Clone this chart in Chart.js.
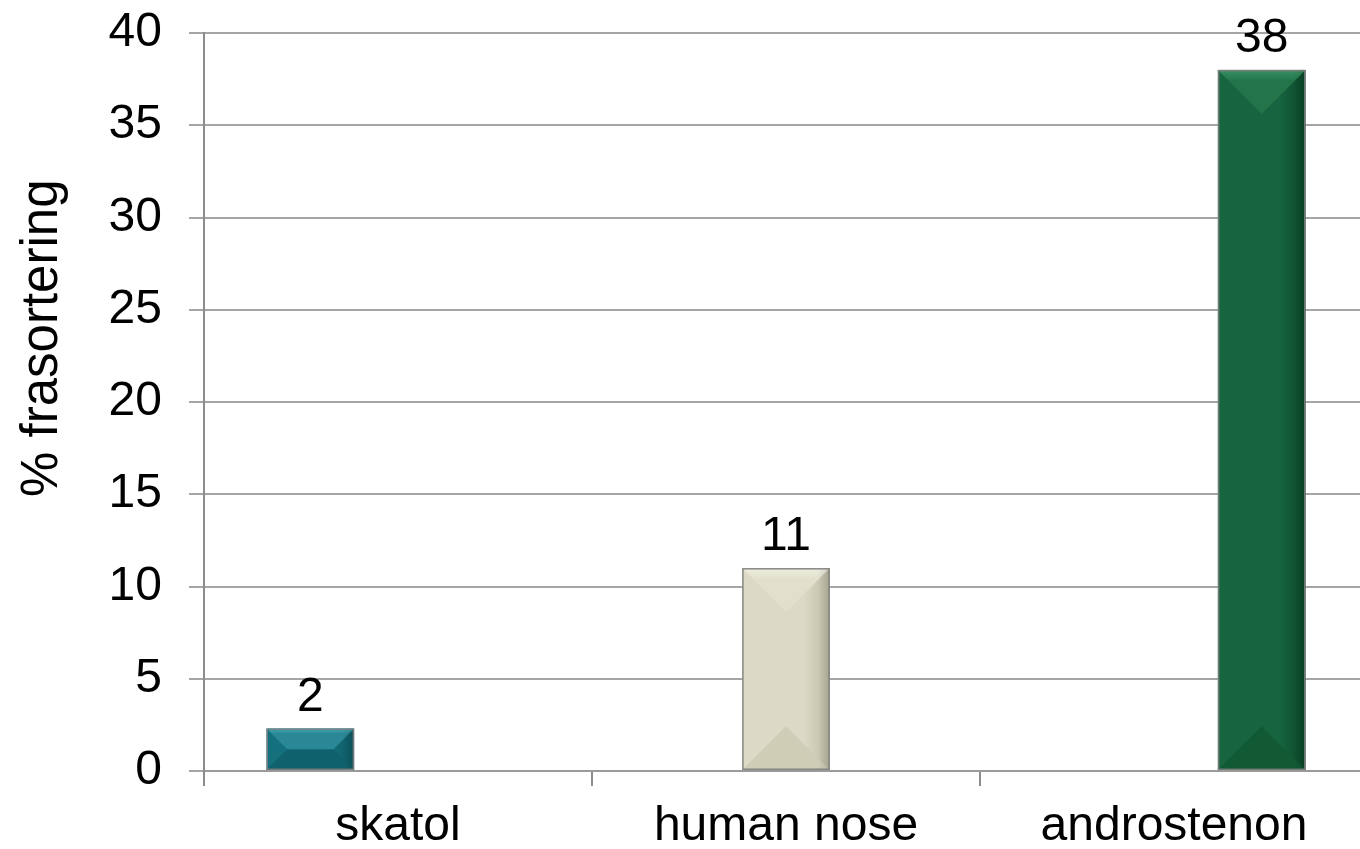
<!DOCTYPE html>
<html>
<head>
<meta charset="utf-8">
<script src="https://cdn.jsdelivr.net/npm/chart.js@4"></script>
<style>
  html, body { margin: 0; padding: 0; background: #fff; overflow: hidden; }
  #wrap { position: absolute; left: 0; top: 0; width: 1370px; height: 849px; }
</style>
</head>
<body>
<div id="wrap"><canvas id="chart"></canvas></div>
<script>
        // Daten
        const categories = ['skatol', 'human nose', 'androstenon'];
        const skatolValues = [2.3, null, null];
        const humanNoseValues = [null, 11, null];
        const androstenonValues = [null, null, 38];
        const yTicks = [0, 5, 10, 15, 20, 25, 30, 35, 40];

        const FONT = "'Liberation Sans', Arial, sans-serif";

        // Farben pro Serie
        const shades = [
            { left: '#14707d', right: '#0e5a65', top1: '#45a7b4', top2: '#2a8896', bottom: '#0f626d' },
            { left: '#dcdac6', right: '#bdbba4', top1: '#eeeddf', top2: '#e2e0cd', bottom: '#cfcdb6' },
            { left: '#176540', right: '#0b4628', top1: '#3a9163', top2: '#237549', bottom: '#125a34' }
        ];

        function poly(ctx, pts, fill) {
            ctx.beginPath();
            ctx.moveTo(pts[0][0], pts[0][1]);
            for (let k = 1; k < pts.length; k++) ctx.lineTo(pts[k][0], pts[k][1]);
            ctx.closePath();
            ctx.fillStyle = fill;
            ctx.fill();
        }

        // Abgeschrägte Balken + Werte darüber
        const bevelPlugin = {
            id: 'bevel',
            afterDatasetsDraw(chart) {
                const ctx = chart.ctx;
                chart.data.datasets.forEach((ds, i) => {
                    const meta = chart.getDatasetMeta(i);
                    meta.data.forEach((bar, j) => {
                        if (ds.data[j] == null) return;
                        const p = bar.getProps(['x', 'y', 'base', 'width'], true);
                        const l = p.x - p.width / 2, r = p.x + p.width / 2;
                        const t = p.y, b = p.base;
                        const d = Math.min((b - t) / 2, p.width / 2);
                        const s = shades[i];
                        ctx.save();
                        const g = ctx.createLinearGradient(l, 0, r, 0);
                        g.addColorStop(0, s.left);
                        g.addColorStop(0.7, s.left);
                        g.addColorStop(1, s.right);
                        ctx.fillStyle = g;
                        ctx.fillRect(l, t, p.width, b - t);
                        // untere Facette
                        poly(ctx, [[l, b], [r, b], [r - d, b - d], [l + d, b - d]], s.bottom);
                        // obere Facette
                        const gt = ctx.createLinearGradient(0, t, 0, t + d);
                        gt.addColorStop(0, s.top1);
                        gt.addColorStop(0.25, s.top2);
                        gt.addColorStop(1, s.top2);
                        poly(ctx, [[l, t], [r, t], [r - d, t + d], [l + d, t + d]], gt);
                        // rechte Kante dunkler
                        const gr = ctx.createLinearGradient(r - 12, 0, r, 0);
                        gr.addColorStop(0, 'rgba(0,0,0,0)');
                        gr.addColorStop(1, 'rgba(0,0,0,0.12)');
                        ctx.fillStyle = gr;
                        ctx.fillRect(r - 12, t, 12, b - t);
                        ctx.strokeStyle = 'rgba(125,125,125,0.9)';
                        ctx.lineWidth = 1.5;
                        ctx.strokeRect(l + 0.75, t + 0.75, p.width - 1.5, b - t - 1.5);

                        ctx.fillStyle = '#000';
                        ctx.font = '48px ' + FONT;
                        ctx.textAlign = 'center';
                        ctx.textBaseline = 'alphabetic';
                        ctx.fillText(String(Math.round(ds.data[j])), p.x, t - 18);
                        ctx.restore();
                    });
                });
            }
        };

        function makeDataset(label, values) {
            return {
                label: label,
                data: values,
                backgroundColor: 'rgba(0,0,0,0)',
                borderWidth: 0,
                categoryPercentage: 0.678,
                barPercentage: 1.0
            };
        }

        new Chart(document.getElementById('chart'), {
            type: 'bar',
            data: {
                labels: categories,
                datasets: [
                    makeDataset('skatol', skatolValues),
                    makeDataset('human nose', humanNoseValues),
                    makeDataset('androstenon', androstenonValues)
                ]
            },
            options: {
                responsive: true,
                maintainAspectRatio: false,
                animation: false,
                layout: { padding: { top: 33, right: 2, left: 0, bottom: 0 } },
                plugins: {
                    legend: { display: false },
                    tooltip: { enabled: false }
                },
                scales: {
                    x: {
                        grid: {
                            display: true,
                            drawOnChartArea: false,
                            drawTicks: true,
                            tickLength: 15,
                            color: '#8c8c8c',
                            lineWidth: 2
                        },
                        border: { color: '#9a9a9a', width: 2 },
                        ticks: {
                            color: '#000',
                            font: { family: FONT, size: 48 },
                            padding: 12,
                            maxRotation: 0
                        },
                        afterFit: s => { s.height = 78; s.paddingLeft = 0; s.paddingRight = 0; }
                    },
                    y: {
                        min: 0,
                        max: 40,
                        afterBuildTicks: s => { s.ticks = yTicks.map(v => ({ value: v })); },
                        grid: {
                            color: '#a6a6a6',
                            lineWidth: 2,
                            tickLength: 15,
                            drawTicks: true
                        },
                        border: { color: '#8c8c8c', width: 2 },
                        ticks: {
                            color: '#000',
                            font: { family: FONT, size: 48 },
                            padding: 27
                        },
                        title: {
                            display: true,
                            text: '\u00a0\u00a0\u00a0\u00a0\u00a0\u00a0\u00a0\u00a0\u00a0% frasortering',
                            color: '#000',
                            font: { family: FONT, size: 51 },
                            padding: { top: 12, bottom: 0 }
                        },
                        afterFit: s => { s.width = 204; s.paddingTop = 0; s.paddingBottom = 0; }
                    }
                }
            },
            plugins: [bevelPlugin]
        });
</script>
</body>
</html>
